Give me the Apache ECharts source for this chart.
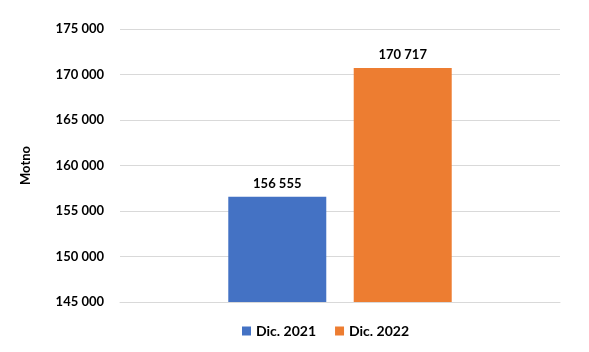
<!DOCTYPE html>
<html>
<head>
<meta charset="utf-8">
<script src="https://cdn.jsdelivr.net/npm/echarts@6/dist/echarts.min.js"></script>
<style>
  html, body { margin: 0; padding: 0; background: #fff; }
  #chart { width: 589px; height: 352px; }
</style>
</head>
<body>
<div id="chart"></div>
<script>
// datos
var categories = ['Motno'];
var seriesNames = ['Dic. 2021', 'Dic. 2022'];
var values2021 = [156555];
var values2022 = [170717];
var yTicks = [145000, 150000, 155000, 160000, 165000, 170000, 175000];

var colors = ['#4472C4', '#ED7D31'];
var fontFam = 'Lato, "Open Sans", sans-serif';

function fmt(v) {
  return String(v).replace(/\B(?=(\d{3})+(?!\d))/g, ' ');
}

var myChart = echarts.init(document.getElementById('chart'));

var labelStyle = {
  show: true,
  position: 'top',
  distance: 7,
  color: '#000',
  fontWeight: 'bold',
  fontSize: 13,
  fontFamily: fontFam,
  formatter: function (p) { return fmt(p.value); }
};

var option = {
  animation: false,
  color: colors,
  grid: { left: 120, right: 29, top: 29, bottom: 50 },
  legend: {
    bottom: 9,
    left: 237,
    itemWidth: 9,
    itemHeight: 9,
    itemGap: 19,
    icon: 'rect',
    textStyle: { color: '#000', fontWeight: 'bold', fontSize: 14, fontFamily: fontFam },
    data: seriesNames
  },
  xAxis: {
    type: 'category',
    data: categories,
    axisLine: { show: true, lineStyle: { color: '#d9d9d9', width: 1 } },
    axisTick: { show: false },
    axisLabel: { show: false }
  },
  yAxis: {
    type: 'value',
    min: yTicks[0],
    max: yTicks[yTicks.length - 1],
    interval: 5000,
    name: 'Motno',
    nameLocation: 'middle',
    nameGap: 88,
    nameRotate: 90,
    nameTextStyle: { color: '#000', fontWeight: 'bold', fontSize: 13, fontFamily: fontFam },
    axisLine: { show: false },
    axisTick: { show: false },
    axisLabel: {
      margin: 16,
      color: '#000',
      fontWeight: 'bold',
      fontSize: 13,
      fontFamily: fontFam,
      formatter: function (v) { return fmt(v); }
    },
    splitLine: { lineStyle: { color: '#d9d9d9', width: 1 } }
  },
  series: [
    {
      name: seriesNames[0],
      type: 'bar',
      data: values2021,
      barWidth: 98,
      barGap: '28%',
      label: labelStyle
    },
    {
      name: seriesNames[1],
      type: 'bar',
      data: values2022,
      barWidth: 98,
      label: labelStyle
    }
  ]
};

myChart.setOption(option);
</script>
</body>
</html>
